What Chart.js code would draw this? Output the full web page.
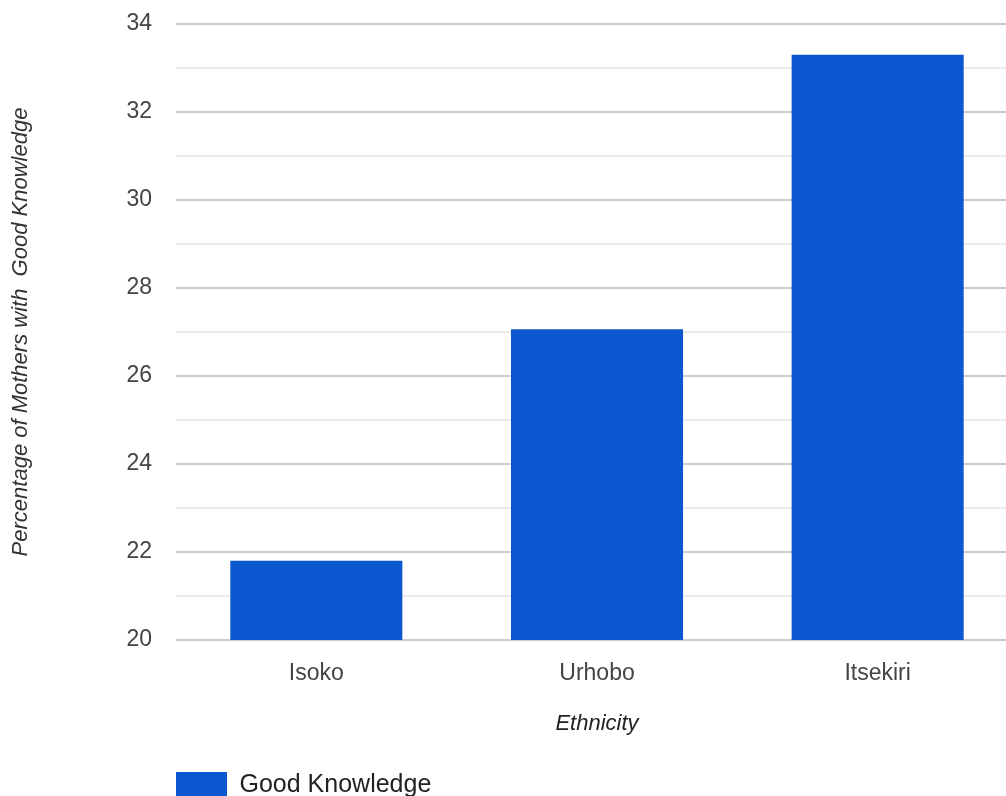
<!DOCTYPE html>
<html>
<head>
<meta charset="utf-8">
<title>Good Knowledge by Ethnicity</title>
<script src="https://cdn.jsdelivr.net/npm/chart.js@4/dist/chart.umd.min.js"></script>
<style>
  html, body { margin: 0; padding: 0; background: #fff; overflow: hidden; }
  #wrap { position: absolute; left: 0; top: 0; width: 1040px; height: 810px; }
</style>
</head>
<body>
<div id="wrap"><canvas id="myChart_etnia" width="1040" height="810"></canvas></div>
<script>
/*--------DATOS-----------*/
var ethnicity = ['Isoko', 'Urhobo', 'Itsekiri'];
var good_knowledge = [21.8, 27.06, 33.3];
var y_ticks = [20, 22, 24, 26, 28, 30, 32, 34];

var fuente = '"Liberation Sans", Arial, sans-serif';

/*--------CHART ETNIA-----------*/
var ctx = document.getElementById("myChart_etnia");
var myChart = new Chart(ctx, {
  type: 'bar',
  data: {
    labels: ethnicity,
    datasets: [
      {
        data: good_knowledge,
        label: "Good Knowledge",
        backgroundColor: "#0b57cf",
        borderWidth: 0,
        barPercentage: 0.613,
        categoryPercentage: 1
      }
    ]
  },
  options: {
    responsive: false,
    animation: false,
    layout: { padding: { top: 24, right: 22, bottom: 2, left: 0 } },
    plugins: {
      tooltip: { enabled: false },
      legend: {
        position: 'bottom',
        align: 'start',
        fullSize: false,
        labels: {
          boxWidth: 51,
          boxHeight: 26,
          padding: 0,
          color: '#222',
          font: { family: fuente, size: 25 }
        }
      }
    },
    scales: {
      x: {
        grid: { display: false },
        border: { display: false },
        ticks: {
          color: '#444',
          padding: 12,
          font: { family: fuente, size: 23 }
        },
        title: {
          display: true,
          text: 'Ethnicity',
          color: '#222',
          padding: { top: 0, bottom: 35 },
          font: { family: fuente, size: 22, style: 'italic' }
        },
        afterFit: function (scale) { scale.height = 132; }
      },
      y: {
        min: 20,
        max: 34,
        border: { display: false },
        grid: {
          drawTicks: false,
          lineWidth: 2,
          color: function (c) {
            return y_ticks.indexOf(c.tick.value) >= 0 ? '#cccccc' : '#ebebeb';
          }
        },
        ticks: {
          stepSize: 1,
          padding: 24,
          color: '#444',
          font: { family: fuente, size: 23 },
          callback: function (value) {
            return y_ticks.indexOf(value) >= 0 ? value : '';
          }
        },
        title: {
          display: true,
          text: 'Percentage of Mothers with  Good Knowledge',
          color: '#333',
          padding: { top: 8, bottom: 0 },
          font: { family: fuente, size: 22, style: 'italic' }
        },
        // ancho fijo y sin relleno extra arriba/abajo por las etiquetas
        afterFit: function (scale) {
          scale.width = 176;
          scale.paddingTop = 0;
          scale.paddingBottom = 0;
        }
      }
    }
  }
});
</script>
</body>
</html>
